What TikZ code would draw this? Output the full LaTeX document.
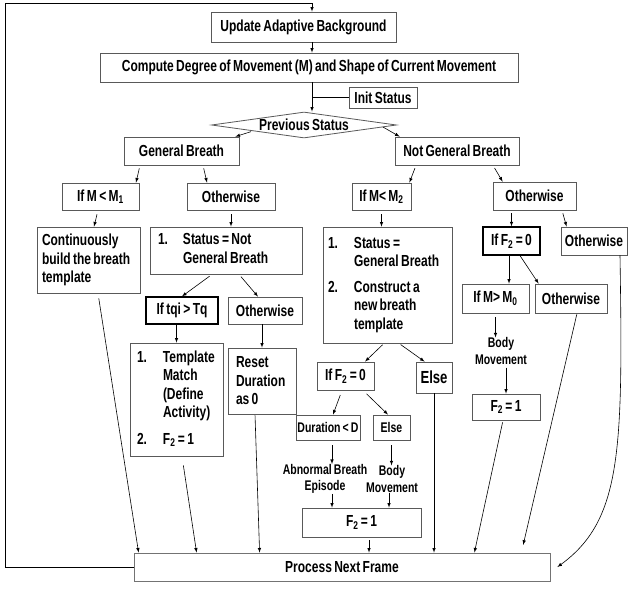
\documentclass[tikz,border=0pt]{standalone}
\usepackage{fontspec}
\setmainfont{Liberation Sans}[FakeStretch=0.75,WordSpace=0.72]
\usetikzlibrary{positioning,calc,arrows,shapes.geometric}
\newcommand\tightsp{\spaceskip=0pt\xspaceskip=0pt\relax}

\begin{document}
\begin{tikzpicture}[x=1pt,y=-1pt,>=latex,
  every node/.style={font=\bfseries\fontsize{16}{18.5}\selectfont,inner sep=0pt},
  bx/.style={draw=black!65,line width=0.8pt},
  tbx/.style={draw=black,line width=1.3pt},
  sm/.style={font=\bfseries\fontsize{14}{16.4}\selectfont},
  arr/.style={->,line width=0.6pt}]
\path[use as bounding box,fill=white] (0,0) rectangle (629,589);

\coordinate (c1) at (5,567);
\coordinate (c2) at (5,3);
\coordinate (c3) at (312,3);

\node[bx,minimum width=185pt,minimum height=30pt] (upd) at (303.5,27) {Update Adaptive Background};
\node[bx,minimum width=418pt,minimum height=29pt] (comp) at (309,67.5) {Compute Degree of Movement (M) and Shape of Current Movement};
\node[bx,minimum width=68pt,minimum height=21pt] (init) at (383,97.5) {Init Status};
\node[bx,diamond,aspect=7.4,minimum width=185pt,minimum height=26pt] (prev) at (304,125) {Previous Status};

\node[bx,minimum width=115pt,minimum height=28pt] (gb) at (181.5,151) {General Breath};
\node[bx,minimum width=124pt,minimum height=28pt] (ngb) at (457,151) {Not General Breath};

\node[bx,minimum width=77pt,minimum height=27pt] (ifm1) at (100.5,196.5) {If M < M\textsubscript{1}};
\node[bx,minimum width=88pt,minimum height=27pt] (oth1) at (231,196.5) {Otherwise};
\node[bx,minimum width=103pt,minimum height=66pt,text width=93pt,align=left] (cont) at (88.5,260) {\tightsp Continuously\\build the breath\\template};
\node[bx,minimum width=152pt,minimum height=47pt,text width=136pt,align=left] (snot) at (226,250.5) {\tightsp\begin{tabular}{@{}p{25pt}@{}l@{}}1.&Status = Not\\&General Breath\end{tabular}};
\node[tbx,minimum width=72pt,minimum height=27pt] (iftq) at (182,310.5) {If tqi > Tq};
\node[bx,minimum width=74pt,minimum height=27pt] (oth2) at (265,310.5) {Otherwise};
\node[bx,minimum width=93pt,minimum height=113pt,text width=79pt,align=left] (tmpl) at (176.5,399.5) {\tightsp\begin{tabular}{@{}p{26pt}@{}l@{}}1.&Template\\&Match\\&(Define\\&Activity)\\[8pt]2.&F\textsubscript{2} = 1\end{tabular}};
\node[bx,minimum width=68pt,minimum height=66pt,text width=52pt,align=left] (reset) at (262,381) {\tightsp Reset\\Duration\\as 0};

\node[bx,minimum width=59pt,minimum height=27pt] (ifm2) at (381.5,196.5) {If M< M\textsubscript{2}};
\node[bx,minimum width=83pt,minimum height=28pt] (oth3) at (534.5,196) {Otherwise};
\node[bx,minimum width=129pt,minimum height=116pt,text width=119pt,align=left] (sgb) at (387.5,285) {\tightsp\begin{tabular}{@{}p{26pt}@{}l@{}}1.&Status =\\&General Breath\\[7pt]2.&Construct a\\&new breath\\&template\end{tabular}};
\node[bx,minimum width=57pt,minimum height=28pt] (iff2a) at (345.5,376) {If F\textsubscript{2} = 0};
\node[bx,minimum width=36pt,minimum height=31pt,font=\bfseries\fontsize{17.5}{20}\selectfont] (else1) at (434,377.5) {Else};
\node[bx,sm,minimum width=64pt,minimum height=25pt] (dur) at (328,427.5) {Duration < D};
\node[bx,sm,minimum width=37pt,minimum height=25pt] (else2) at (391.5,427.5) {Else};
\node[sm,align=center] (abn) at (325,479) {\tightsp Abnormal Breath\\Episode};
\node[sm,align=center] (bm1) at (392,479) {Body\\Movement};
\node[bx,minimum width=119pt,minimum height=29pt] (f2a) at (361.5,522.5) {F\textsubscript{2} = 1};

\node[tbx,minimum width=57pt,minimum height=28pt] (iff2b) at (511.5,241) {If F\textsubscript{2} = 0};
\node[bx,minimum width=66pt,minimum height=28pt] (oth4) at (594,241) {Otherwise};
\node[bx,minimum width=67pt,minimum height=29pt] (ifm0) at (495.5,298.5) {If M> M\textsubscript{0}};
\node[bx,minimum width=72pt,minimum height=29pt] (oth5) at (571,298.5) {Otherwise};
\node[sm,align=center] (bm2) at (501,351) {Body\\Movement};
\node[bx,minimum width=68pt,minimum height=26pt] (f2b) at (506,407) {F\textsubscript{2} = 1};

\node[draw=black!55,line width=0.8pt,minimum width=416pt,minimum height=28pt] (proc) at (342,567) {Process Next Frame};

\draw[arr] (proc.west) -- (c1) -- (c2) -- (c3) -- (c3 |- upd.north);
\draw[arr] (c3 |- upd.south) -- (c3 |- comp.north);
\draw[arr] (c3 |- comp.south) -- (c3 |- prev.north);
\draw[line width=0.6pt] (c3 |- init.west) -- (init.west);
\draw[arr,shorten <=2pt] ($(prev.west)!0.45!(prev.south)$) -- ([xshift=-4pt]gb.north east);
\draw[arr] ($(prev.east)!0.15!(prev.south)$) -- ([xshift=5pt]ngb.north west);

\draw[arr,shorten <=3pt] ([xshift=-41.5pt]gb.south) -- ([xshift=35.5pt]ifm1.north);
\draw[arr,shorten <=3pt] ([xshift=21.5pt]gb.south) -- ([xshift=-24pt]oth1.north);
\draw[arr,shorten <=4pt] ([xshift=-2.5pt]ifm1.south) -- ([xshift=5.5pt]cont.north);
\draw[arr,shorten <=4pt] (oth1.south) -- (oth1.south |- snot.north);
\draw[arr,shorten <=3pt] ([xshift=-14pt]snot.south) -- (iftq.north);
\draw[arr,shorten <=3pt] ([xshift=13pt]snot.south) -- ([xshift=-7pt]oth2.north);
\draw[arr] (tmpl.north |- iftq.south) -- (tmpl.north);
\draw[arr] (reset.north |- oth2.south) -- (reset.north);
\draw[arr,shorten <=5pt] ([xshift=9.5pt]cont.south) -- ([xshift=5pt]proc.north west);
\draw[arr,shorten <=9pt] ([xshift=5.5pt]tmpl.south) -- ([xshift=63pt]proc.north west);
\draw[arr,shorten <=1pt] ([xshift=-7pt]reset.south) -- ([xshift=126pt]proc.north west);

\draw[arr,shorten <=3pt] ([xshift=-41pt]ngb.south) -- ([xshift=-2pt]ifm2.north east);
\draw[arr,shorten <=3pt] ([xshift=36pt]ngb.south) -- ([xshift=10pt]oth3.north west);
\draw[arr,shorten <=4pt] (ifm2.south) -- (ifm2.south |- sgb.north);
\draw[arr,shorten <=3pt] (iff2b.north |- oth3.south) -- (iff2b.north);
\draw[arr,shorten <=3pt] ([xshift=27.5pt]oth3.south) -- ([xshift=6pt]oth4.north west);
\draw[arr] ([xshift=-2.5pt]iff2b.south) -- ([xshift=-2.5pt]iff2b.south |- ifm0.north);
\draw[arr] ([xshift=8.5pt]iff2b.south) -- ([xshift=4pt]oth5.north west);
\draw[arr,shorten <=4pt] (ifm0.south) -- (ifm0.south |- bm2.north);
\draw[arr,shorten <=3pt] (f2b.north |- bm2.south) -- (f2b.north);
\draw[arr,shorten <=2pt] ([xshift=-3pt]f2b.south) -- ([xshift=-76pt]proc.north east);
\draw[arr,shorten <=1pt,shorten >=8pt] ([xshift=6pt]oth5.south) -- ([xshift=-29pt]proc.north east);
\draw[arr] ([xshift=26pt]oth4.south) .. controls (623,450) and (622,520) .. ([xshift=7pt]proc.east);

\draw[arr,shorten <=2pt] ([xshift=-3.5pt]sgb.south) -- ([xshift=19.5pt]iff2a.north);
\draw[arr,shorten <=2pt] ([xshift=11.5pt]sgb.south) -- ([xshift=9pt]else1.north west);
\draw[arr,shorten <=5pt] ([xshift=-3.5pt]iff2a.south) -- ([xshift=5pt]dur.north);
\draw[arr,shorten <=5pt] ([xshift=17.5pt]iff2a.south) -- ([xshift=-3.5pt]else2.north);
\draw[arr,shorten <=5pt] ([xshift=4pt]dur.south) -- ([xshift=4pt]dur.south |- abn.north);
\draw[arr,shorten <=5pt] (else2.south) -- (else2.south |- bm1.north);
\draw[arr] ([xshift=7pt]abn.south) -- ([xshift=7pt]abn.south |- f2a.north);
\draw[arr] ([xshift=-3pt]bm1.south) -- ([xshift=-3pt]bm1.south |- f2a.north);
\draw[arr,shorten <=3pt] ([xshift=7.5pt]f2a.south) -- ([xshift=7.5pt]f2a.south |- proc.north);
\draw[arr] (else1.south) -- (else1.south |- proc.north);
\end{tikzpicture}
\end{document}
